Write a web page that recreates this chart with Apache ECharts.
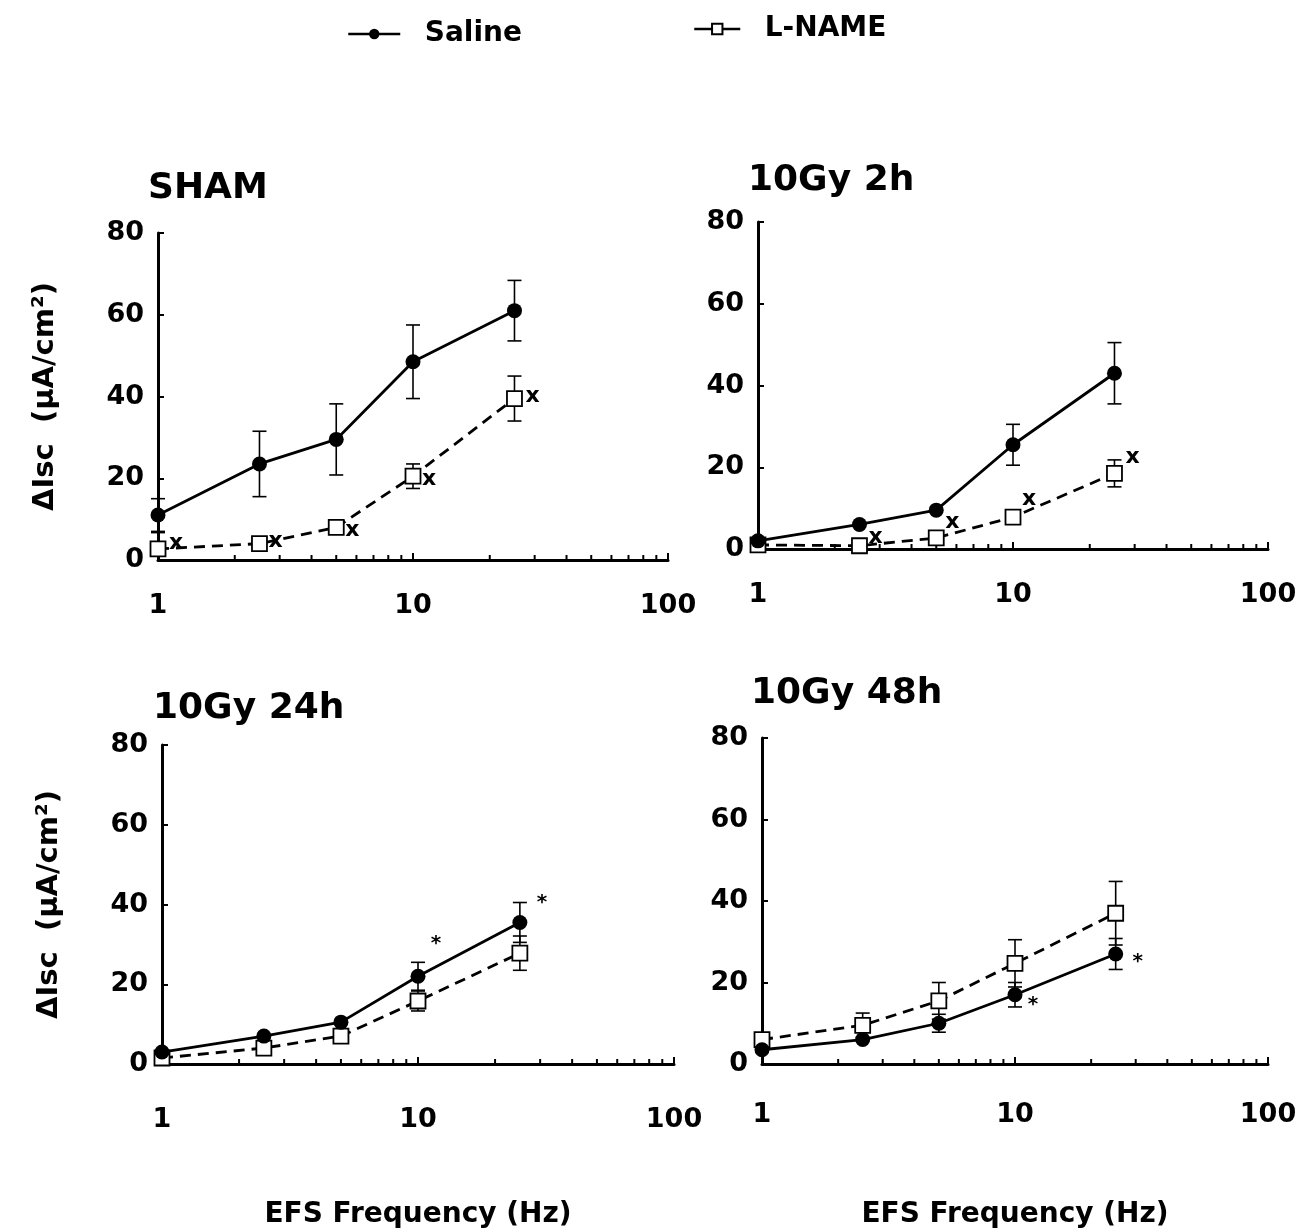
<!DOCTYPE html>
<html>
<head>
<meta charset="utf-8">
<script src="https://cdn.jsdelivr.net/npm/echarts@6/dist/echarts.min.js"></script>
<style>
  html, body { margin: 0; padding: 0; background: #fff; }
  #chart { width: 1302px; height: 1230px; }
</style>
</head>
<body>
<div id="chart"></div>
<script>
// EFS stimulation frequencies (Hz)
const freqs = [1, 2.5, 5, 10, 25]
const xTicks = [1, 10, 100]
const yTicks = [0, 20, 40, 60, 80]
const minorTicks = [2, 3, 4, 5, 6, 7, 8, 9, 20, 30, 40, 50, 60, 70, 80, 90]

// SHAM
const shamSaline = [11, 23.5, 29.5, 48.5, 61]
const shamSalineErr = [4, 8, 8.7, 9, 7.4]
const shamLname = [2.7, 4, 8, 20.5, 39.5]
const shamLnameErr = [4, 0, 0, 3, 5.5]
const shamMarks = ['x', 'x', 'x', 'x', 'x']

// 10Gy 2h
const gy2Saline = [2, 6, 9.5, 25.5, 43]
const gy2SalineErr = [0, 0, 0, 5, 7.5]
const gy2Lname = [1, 0.8, 2.7, 7.8, 18.5]
const gy2LnameErr = [0, 0, 0, 0, 3.3]
const gy2Marks = ['', 'x', 'x', 'x', 'x']

// 10Gy 24h
const gy24Saline = [3, 7, 10.5, 22, 35.5]
const gy24SalineErr = [0, 0, 0, 3.5, 5]
const gy24Lname = [1.5, 4, 7, 15.8, 27.8]
const gy24LnameErr = [0, 0, 0, 2.5, 4.3]
const gy24Marks = ['', '', '', '*', '*']

// 10Gy 48h
const gy48Saline = [3.5, 6, 10, 17, 27]
const gy48SalineErr = [0, 0, 2.2, 3, 3.8]
const gy48Lname = [6, 9.5, 15.5, 24.7, 37]
const gy48LnameErr = [0, 3, 4.5, 5.8, 7.8]
const gy48Marks = ['', '', '', '*', '*']

const font = 'DejaVu Sans, Verdana, sans-serif'

const panels = [
  { title: 'SHAM', saline: shamSaline, salineErr: shamSalineErr, lname: shamLname, lnameErr: shamLnameErr,
    marks: shamMarks, markOn: 'lname', markOffset: [[18, -6], [16, -2], [16, 3], [16, 3], [18, -2]],
    grid: { left: 158, top: 233, width: 510, height: 327 }, titlePos: [143, 166], labelMargin: 32, yName: true, xName: false },
  { title: '10Gy 2h', saline: gy2Saline, salineErr: gy2SalineErr, lname: gy2Lname, lnameErr: gy2LnameErr,
    marks: gy2Marks, markOn: 'lname', markOffset: [[0, 0], [16, -8], [16, -16], [16, -18], [18, -16]],
    grid: { left: 758, top: 222, width: 510, height: 327 }, titlePos: [743, 158], labelMargin: 32, yName: false, xName: false },
  { title: '10Gy 24h', saline: gy24Saline, salineErr: gy24SalineErr, lname: gy24Lname, lnameErr: gy24LnameErr,
    marks: gy24Marks, markOn: 'saline', markOffset: [[0, 0], [0, 0], [0, 0], [18, -32], [22, -20]],
    grid: { left: 162, top: 745, width: 512, height: 328 }, titlePos: [148, 686], labelMargin: 42, yName: true, xName: true },
  { title: '10Gy 48h', saline: gy48Saline, salineErr: gy48SalineErr, lname: gy48Lname, lnameErr: gy48LnameErr,
    marks: gy48Marks, markOn: 'saline', markOffset: [[0, 0], [0, 0], [0, 0], [18, 10], [22, 8]],
    grid: { left: 762, top: 738, width: 506, height: 329 }, titlePos: [746, 671], labelMargin: 37, yName: false, xName: true }
]

const errRender = (params, api) => {
  const x = api.value(0)
  const loVal = api.value(1)
  const lo = api.coord([x, Math.max(0, loVal)])
  const hi = api.coord([x, api.value(2)])
  const w = 7
  const st = { stroke: '#000', lineWidth: 1.6 }
  const parts = [
    { type: 'line', shape: { x1: lo[0], y1: lo[1], x2: hi[0], y2: hi[1] }, style: st },
    { type: 'line', shape: { x1: hi[0] - w, y1: hi[1], x2: hi[0] + w, y2: hi[1] }, style: st }
  ]
  if (loVal > 0) {
    parts.push({ type: 'line', shape: { x1: lo[0] - w, y1: lo[1], x2: lo[0] + w, y2: lo[1] }, style: st })
  }
  return { type: 'group', children: parts }
}

const tickRender = (params, api) => {
  const p = api.coord([api.value(0), 0])
  return { type: 'line', shape: { x1: p[0], y1: p[1], x2: p[0], y2: p[1] - 5 }, style: { stroke: '#000', lineWidth: 2 } }
}

const titles = []
const grids = []
const xAxes = []
const yAxes = []
const series = []

panels.forEach((pn, i) => {
  titles.push({
    text: pn.title, left: pn.titlePos[0], top: pn.titlePos[1],
    textStyle: { fontFamily: font, fontSize: 36, fontWeight: 'bold', color: '#000' }
  })
  grids.push(pn.grid)
  xAxes.push({
    gridIndex: i, type: 'log', logBase: 10, min: 1, max: 100,
    name: pn.xName ? 'EFS Frequency (Hz)' : '', nameLocation: 'middle', nameGap: 137,
    nameTextStyle: { fontFamily: font, fontSize: 28, fontWeight: 'bold', color: '#000' },
    axisLine: { lineStyle: { color: '#000', width: 3 } },
    axisTick: { inside: true, length: 7, lineStyle: { width: 2 } },
    axisLabel: { margin: pn.labelMargin, fontFamily: font, fontSize: 27, fontWeight: 'bold', color: '#000',
      formatter: v => (xTicks.includes(Math.round(v)) ? String(Math.round(v)) : '') },
    splitLine: { show: false }
  })
  yAxes.push({
    gridIndex: i, type: 'value', min: yTicks[0], max: yTicks[yTicks.length - 1], interval: 20,
    name: pn.yName ? 'ΔIsc  (μA/cm²)' : '', nameLocation: 'middle', nameGap: 98, nameRotate: 90,
    nameTextStyle: { fontFamily: font, fontSize: 29, fontWeight: 'bold', color: '#000' },
    axisLine: { lineStyle: { color: '#000', width: 3 } },
    axisTick: { inside: true, length: 6, lineStyle: { width: 2 } },
    axisLabel: { margin: 14, fontFamily: font, fontSize: 27, fontWeight: 'bold', color: '#000', padding: [8, 0, 0, 0] },
    splitLine: { show: false }
  })

  const markStyle = { show: true, color: '#000', fontFamily: font, fontWeight: 'bold', position: 'inside' }
  const toData = (vals, isMarked) => vals.map((v, k) => {
    const d = { value: [freqs[k], v] }
    if (isMarked && pn.marks[k]) {
      d.label = Object.assign({}, markStyle, {
        formatter: pn.marks[k],
        fontSize: pn.marks[k] === '*' ? 20 : 22,
        offset: pn.markOffset[k]
      })
    }
    return d
  })
  const errData = (vals, errs) => vals.map((v, k) => [freqs[k], v - errs[k], v + errs[k]]).filter((d, k) => errs[k] > 0)

  series.push({
    type: 'custom', xAxisIndex: i, yAxisIndex: i, renderItem: errRender, z: 1,
    data: errData(pn.saline, pn.salineErr), encode: { x: 0, y: [1, 2] }, silent: true
  })
  series.push({
    type: 'custom', xAxisIndex: i, yAxisIndex: i, renderItem: errRender, z: 1,
    data: errData(pn.lname, pn.lnameErr), encode: { x: 0, y: [1, 2] }, silent: true
  })
  series.push({
    type: 'custom', xAxisIndex: i, yAxisIndex: i, renderItem: tickRender, z: 1,
    data: minorTicks.map(v => [v, 0]), silent: true, clip: false
  })
  series.push({
    name: 'L-NAME', type: 'line', xAxisIndex: i, yAxisIndex: i, z: 3,
    data: toData(pn.lname, pn.markOn === 'lname'),
    symbol: 'rect', symbolSize: 15,
    lineStyle: { color: '#000', width: 2.8, type: [11, 7] },
    itemStyle: { color: '#fff', borderColor: '#000', borderWidth: 1.8 },
    label: { show: false }
  })
  series.push({
    name: 'Saline', type: 'line', xAxisIndex: i, yAxisIndex: i, z: 4,
    data: toData(pn.saline, pn.markOn === 'saline'),
    symbol: 'circle', symbolSize: 15,
    lineStyle: { color: '#000', width: 2.8 },
    itemStyle: { color: '#000' },
    label: { show: false }
  })
})

const legendText = { fontFamily: font, fontSize: 28, fontWeight: 'bold', color: '#000' }
const option = {
  animation: false,
  backgroundColor: '#fff',
  title: titles,
  legend: [
    { data: ['Saline'], left: 342, top: 15, itemWidth: 52, itemHeight: 13, formatter: '  {name}',
      lineStyle: { width: 2.5 }, textStyle: legendText },
    { data: ['L-NAME'], left: 688, top: 10, itemWidth: 46, itemHeight: 13, formatter: '  {name}',
      lineStyle: { type: 'solid', width: 2.5 }, textStyle: legendText }
  ],
  grid: grids,
  xAxis: xAxes,
  yAxis: yAxes,
  series: series
}

const chart = echarts.init(document.getElementById('chart'))
chart.setOption(option)
window.addEventListener('resize', function () {
  chart && chart.resize()
})
</script>
</body>
</html>
